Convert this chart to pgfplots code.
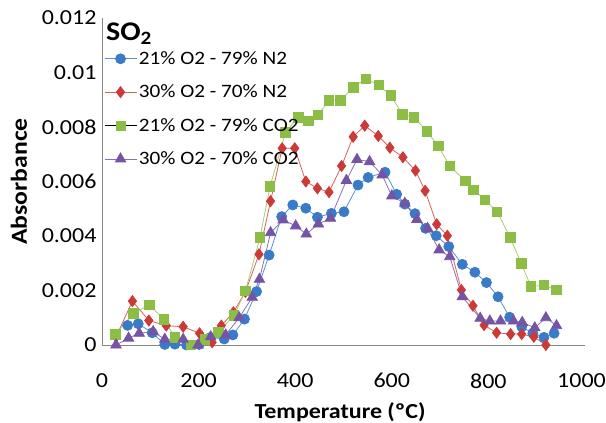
\documentclass[border=0pt]{standalone}
\usepackage{pgfplots}
\pgfplotsset{compat=1.18}
\usepackage{fontspec}
\setmainfont{Carlito}[FakeStretch=1.12]

\definecolor{bluemk}{HTML}{3A7BC8}
\definecolor{blueln}{HTML}{5B8FD0}
\definecolor{redmk}{HTML}{CC3A38}
\definecolor{redln}{HTML}{D9605E}
\definecolor{greenmk}{HTML}{8CBE45}
\definecolor{greenln}{HTML}{A9CC70}
\definecolor{purpmk}{HTML}{7654A5}
\definecolor{purpln}{HTML}{8C70B5}
\definecolor{axisgray}{HTML}{868686}

% 21% O2 - 79% N2
\pgfplotstableread{
T     A
53    0.00072
75    0.00078
104   0.00045
130   0.00002
151   0.00003
175   0.00000
201   0.00002
225   0.00028
253   0.00022
271   0.00037
295   0.00095
320   0.00196
346   0.00330
372   0.00471
395   0.00514
422   0.00502
446   0.00469
475   0.00483
501   0.00489
530   0.00587
551   0.00615
586   0.00634
610   0.00553
627   0.00517
648   0.00482
670   0.00428
692   0.00401
718   0.00361
746   0.00296
772   0.00267
796   0.00229
820   0.00177
844   0.00102
869   0.00067
892   0.00043
915   0.00028
936   0.00043
}\airNtwo

% 30% O2 - 70% N2
\pgfplotstableread{
T     A
29    0.00030
63    0.00161
97    0.00090
133   0.00071
168   0.00067
202   0.00043
228   0.00010
247   0.00071
272   0.00120
297   0.00195
325   0.00333
349   0.00528
373   0.00722
399   0.00722
422   0.00600
446   0.00575
470   0.00561
496   0.00657
520   0.00764
544   0.00805
572   0.00767
596   0.00724
623   0.00689
649   0.00640
669   0.00566
693   0.00443
715   0.00401
744   0.00202
768   0.00144
791   0.00073
817   0.00045
846   0.00040
869   0.00040
894   0.00030
919   0.00000
}\oxyNtwo

% 21% O2 - 79% CO2
\pgfplotstableread{
T     A
28    0.00039
65    0.00116
98    0.00147
128   0.00095
151   0.00028
184   0.00000
213   0.00021
241   0.00047
273   0.00108
297   0.00198
327   0.00394
348   0.00582
380   0.00780
406   0.00836
427   0.00823
447   0.00844
470   0.00898
494   0.00898
520   0.00946
546   0.00976
573   0.00954
598   0.00915
622   0.00847
646   0.00836
673   0.00783
696   0.00731
720   0.00657
752   0.00602
769   0.00569
793   0.00532
818   0.00489
845   0.00395
868   0.00300
888   0.00214
915   0.00220
941   0.00202
}\airCOtwo

% 30% O2 - 70% CO2
\pgfplotstableread{
T     A
29    0.00000
55    0.00025
77    0.00043
106   0.00049
130   0.00021
168   0.00021
199   0.00000
225   0.00030
256   0.00037
284   0.00100
311   0.00175
326   0.00241
349   0.00412
375   0.00459
401   0.00437
423   0.00407
448   0.00444
473   0.00465
506   0.00604
528   0.00681
554   0.00673
580   0.00624
600   0.00547
627   0.00520
652   0.00461
674   0.00428
698   0.00349
720   0.00324
746   0.00177
783   0.00098
803   0.00088
825   0.00088
852   0.00088
870   0.00083
896   0.00063
919   0.00100
941   0.00071
}\oxyCOtwo

\begin{document}
\begin{tikzpicture}
\path[use as bounding box] (0,0) rectangle (606bp,423bp);
\begin{axis}[
  at={(102bp,78bp)}, anchor=south west,
  scale only axis, width=483bp, height=327bp,
  xmin=0, xmax=1000, ymin=0, ymax=0.012,
  axis x line*=bottom, axis y line*=left,
  axis line style={draw=axisgray, line width=0.8bp, -},
  major tick length=0pt,
  xtick={0,200,400,600,800,1000},
  xticklabels={0,200,400,600,800,\mbox{1000\kern7bp}},
  ytick={0,0.002,0.004,0.006,0.008,0.01,0.012},
  yticklabels={0,0.002,0.004,0.006,0.008,0.01,0.012},
  scaled y ticks=false,
  xticklabel style={font=\fontsize{21.5}{24}\selectfont, yshift=-25bp},
  yticklabel style={font=\fontsize{21.5}{24}\selectfont, xshift=-2bp},
  xlabel={Temperature (ºC)},
  xlabel style={font=\bfseries\fontsize{21.5}{26}\selectfont, at={(axis description cs:0.493,-0.205)}, anchor=center},
  ylabel={Absorbance},
  ylabel style={font=\bfseries\fontsize{23}{26}\selectfont, at={(axis description cs:-0.172,0.5)}, anchor=center, rotate=0},
  clip=false,
  legend style={at={(axis description cs:0.004,0.904)}, anchor=north west, draw=none, fill=none,
    font=\fontsize{19}{22}\selectfont, inner sep=0pt, row sep=15bp,
    cells={anchor=west}},
  legend image code/.code={\draw[mark repeat=2,mark phase=2,#1] plot coordinates {(-1bp,0bp)(15bp,0bp)(31bp,0bp)};},
]
\addplot[blueln, line width=0.8bp, mark=*, mark size=5bp, mark options={fill=bluemk, draw=bluemk}, forget plot] table[x=T,y=A] {\airNtwo};
\addplot[redln, line width=0.8bp, mark=diamond*, mark size=5.5bp, mark options={fill=redmk, draw=redmk}, forget plot] table[x=T,y=A] {\oxyNtwo};
\addplot[greenln, line width=0.8bp, mark=square*, mark size=4.8bp, mark options={fill=greenmk, draw=greenmk}, forget plot] table[x=T,y=A] {\airCOtwo};
\addplot[purpln, line width=0.8bp, mark=triangle*, mark size=6bp, mark options={fill=purpmk, draw=purpmk}, forget plot] table[x=T,y=A] {\oxyCOtwo};

\addlegendimage{blueln, line width=0.8bp, mark=*, mark size=5bp, mark options={fill=bluemk, draw=bluemk}}
\addlegendentry{21\% O2 - 79\% N2}
\addlegendimage{redln, line width=0.8bp, mark=diamond*, mark size=5.5bp, mark options={fill=redmk, draw=redmk}}
\addlegendentry{30\% O2 - 70\% N2}
\addlegendimage{draw=none, mark=square*, mark size=4.8bp, mark options={fill=greenmk, draw=greenmk}}
\addlegendentry{21\% O2 - 79\% CO2}
\addlegendimage{purpln, line width=0.8bp, mark=triangle*, mark size=6bp, mark options={fill=purpmk, draw=purpmk}}
\addlegendentry{30\% O2 - 70\% CO2}

\node[anchor=base west, font=\bfseries\fontsize{27}{32}\selectfont, inner sep=0pt]
  at (axis description cs:0.008,0.93) {SO\textsubscript{2}};
\end{axis}
\end{tikzpicture}
\end{document}
